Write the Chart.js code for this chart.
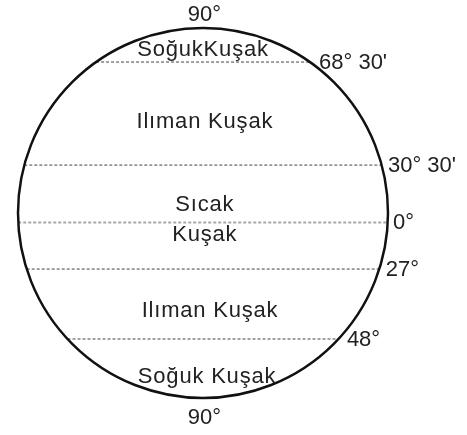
<!DOCTYPE html>
<html>
<head>
<meta charset="utf-8">
<script src="https://cdn.jsdelivr.net/npm/chart.js@4.4.1/dist/chart.umd.min.js"></script>
<style>
  html, body { margin: 0; padding: 0; background: #fff; }
  #wrap { width: 467px; height: 435px; }
</style>
</head>
<body>
<div id="wrap"><canvas id="kusaklar" width="467" height="435"></canvas></div>
<script>
// enlem çizgileri (yarıçap birimiyle yükseklik)
const latLabels = ["68° 30'", "30° 30'", "0°", "27°", "48°"];
const latLevels = [0.816, 0.259, -0.051, -0.303, -0.681];

// kuşak adları ve yükseklikleri
const zoneNames = ["SoğukKuşak", "Ilıman Kuşak", "Sıcak", "Kuşak", "Ilıman Kuşak", "Soğuk Kuşak"];
const zoneLevels = [0.889, 0.497, 0.051, -0.114, -0.524, -0.881];
const zoneShift = [0.0, 0.01, 0.01, 0.01, 0.038, 0.022];

// kutuplar
const poleLabels = ["90°", "90°"];
const poleLevels = [1.076, -1.103];

// sayfa içindeki daire
const CX = 203, CY = 213, R = 185, W = 467, H = 435;
const FONT = "22px 'Liberation Sans', Arial, sans-serif";

const lineDatasets = latLevels.map((v, i) => {
  const w = Math.sqrt(1 - v * v);
  return {
    data: [{ x: -w, y: v }, { x: w, y: v }],
    showLine: true,
    pointRadius: 0,
    borderColor: i === 2 ? "#a8a8a8" : "#444",
    borderWidth: i === 2 ? 2 : 1,
    borderDash: [3, 2],
  };
});

const globePlugin = {
  id: "globe",
  afterDatasetsDraw(chart) {
    const { ctx, scales } = chart;
    const x = scales.x, y = scales.y;
    const px0 = x.getPixelForValue(0), py0 = y.getPixelForValue(0);
    const rad = x.getPixelForValue(1) - px0;
    ctx.save();
    ctx.beginPath();
    ctx.arc(px0, py0, rad, 0, Math.PI * 2);
    ctx.lineWidth = 2.5;
    ctx.strokeStyle = "#111";
    ctx.stroke();

    ctx.font = FONT;
    ctx.fillStyle = "#222";
    ctx.textBaseline = "middle";

    // enlem etiketleri, çizginin sağ ucunun yanında
    ctx.letterSpacing = "0px";
    ctx.textAlign = "left";
    latLabels.forEach((t, i) => {
      const v = latLevels[i];
      const w = Math.sqrt(1 - v * v);
      ctx.fillText(t, x.getPixelForValue(w) + 5 + 5 * Math.abs(v), y.getPixelForValue(v) + 1);
    });

    ctx.textAlign = "center";
    poleLabels.forEach((t, i) => {
      ctx.fillText(t, x.getPixelForValue(0.008), y.getPixelForValue(poleLevels[i]) + 1);
    });

    ctx.letterSpacing = "0.8px";
    zoneNames.forEach((t, i) => {
      ctx.fillText(t, x.getPixelForValue(zoneShift[i]), y.getPixelForValue(zoneLevels[i]) + 1);
    });
    ctx.restore();
  },
};

new Chart(document.getElementById("kusaklar").getContext("2d"), {
  type: "scatter",
  data: { datasets: lineDatasets },
  options: {
    responsive: false,
    animation: false,
    layout: { padding: 0 },
    plugins: { legend: { display: false }, tooltip: { enabled: false } },
    scales: {
      x: { type: "linear", display: false, min: -CX / R, max: (W - CX) / R },
      y: { type: "linear", display: false, min: (CY - H) / R, max: CY / R },
    },
  },
  plugins: [globePlugin],
});
</script>
</body>
</html>
